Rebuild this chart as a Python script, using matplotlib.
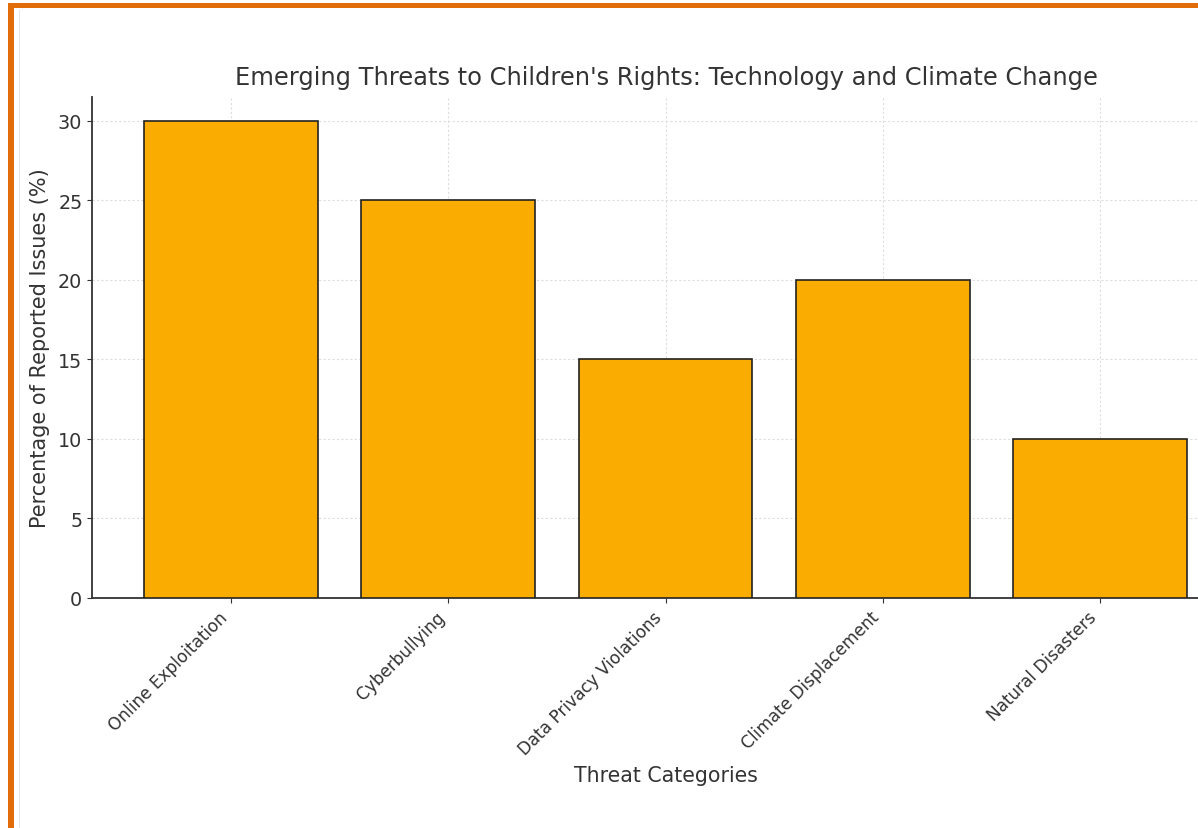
import matplotlib
matplotlib.use("Agg")
import matplotlib.pyplot as plt
from matplotlib.patches import Rectangle

categories = ["Online Exploitation", "Cyberbullying", "Data Privacy Violations",
              "Climate Displacement", "Natural Disasters"]
values = [30, 25, 15, 20, 10]

W, H = 1198, 829
fig = plt.figure(figsize=(W / 100, H / 100), dpi=100)
fig.patch.set_facecolor("white")

ax = fig.add_axes([92 / W, 1 - 599 / H, (1239 - 92) / W, (599 - 98) / H])
ax.bar(range(len(categories)), values, width=0.8, color="#FBAC00",
       edgecolor="#222222", linewidth=1.2, zorder=3)
ax.set_xticks(range(len(categories)))
ax.set_xticklabels(categories, rotation=45, ha="right", fontsize=12.2, color="#333333")
ax.set_yticks([0, 5, 10, 15, 20, 25, 30])
ax.tick_params(axis="y", labelsize=13.8, colors="#333333")
ax.tick_params(axis="x", colors="#333333")
ax.set_ylim(0, 31.5)
ax.set_xlim(-0.64, 4.64)
ax.grid(True, color="#dddddd", linestyle=(0, (2, 2)), linewidth=0.8, zorder=0)
for s in ["top", "right"]:
    ax.spines[s].set_visible(False)
for s in ["left", "bottom"]:
    ax.spines[s].set_color("#333333")
    ax.spines[s].set_linewidth(1.3)
ax.set_xlabel("Threat Categories", fontsize=14.8, color="#333333", labelpad=5)
ax.set_ylabel("Percentage of Reported Issues (%)", fontsize=15, color="#333333", labelpad=6)
fig.text(666 / W, 1 - 78 / H, "Emerging Threats to Children's Rights: Technology and Climate Change",
         ha="center", va="center", fontsize=17.4, color="#333333")

# frame decoration
fig.patches.append(Rectangle((8 / W, 0), 6 / W, 1 - 4 / H, transform=fig.transFigure,
                             facecolor="#E36C0A", edgecolor="none", zorder=10))
fig.patches.append(Rectangle((8 / W, 1 - 9 / H), 1 - 8 / W, 5 / H, transform=fig.transFigure,
                             facecolor="#E36C0A", edgecolor="none", zorder=10))
fig.patches.append(Rectangle((19 / W, 0), 1.2 / W, 1 - 11 / H, transform=fig.transFigure,
                             facecolor="#e6e6e6", edgecolor="none", zorder=10))

fig.savefig("out.png", dpi=100)
